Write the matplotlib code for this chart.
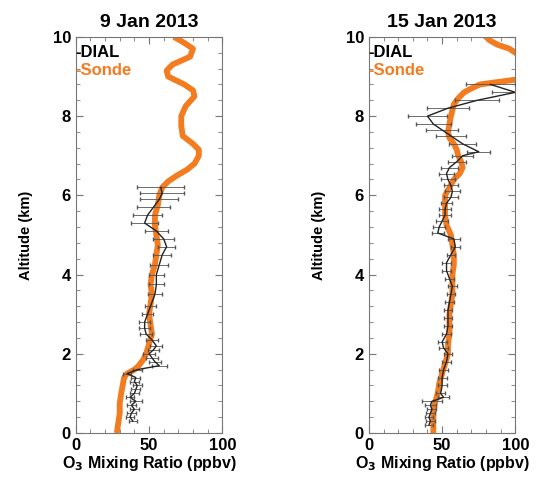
import numpy as np
import matplotlib
matplotlib.use('Agg')
import matplotlib.pyplot as plt
from matplotlib.ticker import MultipleLocator

plt.rcParams['font.family'] = ['Liberation Sans', 'DejaVu Sans']
plt.rcParams['font.weight'] = 'bold'
plt.rcParams['mathtext.default'] = 'bf'

ORANGE = '#f47c20'

# 9 Jan 2013 -- ozonesonde profile (ppbv vs km)
sonde1_alt = [0.0, 0.25, 0.5, 0.75, 1.0, 1.2, 1.4, 1.5, 1.6, 1.7, 1.85, 2.0, 2.25, 2.5,
              2.75, 3.0, 3.25, 3.5, 3.75, 4.0, 4.25, 4.5, 4.75, 5.0, 5.25, 5.5, 5.75,
              6.0, 6.2, 6.35, 6.5, 6.65, 6.8, 7.0, 7.15, 7.3, 7.5, 7.75, 8.0, 8.25,
              8.5, 8.65, 8.8, 9.0, 9.15, 9.3, 9.5, 9.7, 9.85, 10.0]
sonde1_o3 = [28, 29, 30, 30, 31, 32, 33, 35, 40, 43, 46, 48, 50, 52, 51, 50, 51, 52,
             51, 52, 54, 55, 56, 55, 54, 54, 56, 57, 59, 63, 69, 76, 81, 84, 84, 80,
             73, 72, 72, 75, 81, 80, 74, 63, 62, 66, 78, 80, 74, 67]

# 9 Jan 2013 -- DIAL retrieval with uncertainty
dial1_alt = [0.3, 0.4, 0.5, 0.6, 0.7, 0.8, 0.9, 1.0, 1.1, 1.2, 1.3, 1.4, 1.5, 1.6,
             1.7, 1.8, 1.9, 2.0, 2.1, 2.2, 2.35, 2.5, 2.65, 2.8, 3.0, 3.2, 3.5, 3.75,
             4.0, 4.25, 4.5, 4.7, 4.9, 5.1, 5.3, 5.5, 5.7, 5.9, 6.05, 6.2]
dial1_o3 = [39, 37, 38, 40, 38, 41, 37, 40, 41, 42, 40, 41, 35, 42, 57, 54, 52, 50,
            53, 55, 52, 48, 47, 47, 49, 51, 54, 55, 55, 57, 59, 62, 60, 55, 47, 49,
            53, 57, 59, 58]
dial1_err = [3, 3, 3, 3, 3, 4, 3, 3, 3, 3, 3, 3, 3, 3, 5, 4, 4, 4, 4, 4, 4, 4, 4, 4,
             4, 4, 5, 5, 5, 6, 6, 6, 7, 8, 9, 10, 11, 13, 15, 16]

# 15 Jan 2013 -- ozonesonde profile
sonde2_alt = [0.0, 0.25, 0.5, 0.75, 1.0, 1.25, 1.5, 1.75, 2.0, 2.25, 2.5, 2.75, 3.0,
              3.25, 3.5, 3.75, 4.0, 4.25, 4.5, 4.75, 5.0, 5.25, 5.5, 5.75, 6.0, 6.2,
              6.4, 6.55, 6.7, 6.85, 7.0, 7.15, 7.3, 7.45, 7.6, 7.8, 8.0, 8.15, 8.3,
              8.45, 8.6, 8.7, 8.8, 8.86, 8.92]
sonde2_o3 = [44, 44, 44, 45, 47, 48, 50, 52, 54, 54, 55, 55, 55, 56, 57, 57, 57, 58,
             58, 57, 56, 53, 52, 52, 52, 55, 58, 62, 64, 63, 61, 60, 58, 55, 54, 55,
             56, 57, 58, 61, 65, 70, 76, 88, 100]
sonde2_top_alt = [9.6, 9.7, 9.8, 9.9, 10.0]
sonde2_top_o3 = [100, 96, 88, 83, 80]

# 15 Jan 2013 -- DIAL retrieval with uncertainty
dial2_alt = [0.2, 0.3, 0.4, 0.5, 0.6, 0.7, 0.8, 0.9, 1.0, 1.2, 1.4, 1.6, 1.8, 2.0,
             2.15, 2.3, 2.5, 2.7, 2.9, 3.1, 3.3, 3.5, 3.7, 3.9, 4.1, 4.3, 4.5, 4.7,
             4.9, 5.05, 5.2, 5.35, 5.5, 5.65, 5.8, 5.95, 6.1, 6.25, 6.4, 6.55, 6.7,
             6.85, 7.0, 7.1, 7.3, 7.5, 7.65, 7.8, 8.0, 8.2, 8.4, 8.6, 8.8]
dial2_o3 = [41, 42, 41, 42, 43, 42, 43, 51, 49, 50, 50, 51, 53, 54, 51, 50, 53, 54,
            54, 54, 55, 56, 57, 55, 53, 53, 56, 59, 58, 47, 48, 50, 52, 52, 53, 56,
            57, 56, 54, 53, 55, 60, 64, 75, 64, 56, 50, 44, 40, 54, 74, 100, 83]
dial2_err = [3, 3, 3, 3, 3, 4, 7, 4, 3, 3, 3, 3, 3, 3, 3, 3, 3, 3, 3, 3, 3, 3, 3, 3,
             3, 3, 3, 3, 4, 4, 4, 4, 4, 4, 4, 5, 5, 5, 5, 5, 6, 6, 7, 8, 9, 10, 11, 12,
             13, 14, 15, 16, 17]

panels = [
    ('9 Jan 2013', sonde1_alt, sonde1_o3, None, None, dial1_alt, dial1_o3, dial1_err),
    ('15 Jan 2013', sonde2_alt, sonde2_o3, sonde2_top_alt, sonde2_top_o3,
     dial2_alt, dial2_o3, dial2_err),
]

fig = plt.figure(figsize=(5.53, 4.79), dpi=100)
lefts = [0.137, 0.667]

for left, (title, s_alt, s_o3, t_alt, t_o3, d_alt, d_o3, d_err) in zip(lefts, panels):
    ax = fig.add_axes([left, 0.096, 0.265, 0.827])
    ax.plot(s_o3, s_alt, color=ORANGE, lw=4.2, solid_capstyle='butt', zorder=2)
    if t_alt is not None:
        ax.plot(t_o3, t_alt, color=ORANGE, lw=4.2, zorder=2)
    ax.errorbar(d_o3, d_alt, xerr=d_err, color='#222222', lw=1.0,
                elinewidth=0.6, ecolor='#555555', capsize=1.5, zorder=3)
    ax.set_xlim(0, 100)
    ax.set_ylim(0, 10)
    ax.xaxis.set_major_locator(MultipleLocator(50))
    ax.xaxis.set_minor_locator(MultipleLocator(10))
    ax.yaxis.set_major_locator(MultipleLocator(2))
    ax.yaxis.set_minor_locator(MultipleLocator(0.4))
    ax.tick_params(which='both', direction='in', top=True, right=True,
                   color='#777777', labelsize=12)
    ax.tick_params(which='major', length=5)
    ax.tick_params(which='minor', length=3)
    for sp in ax.spines.values():
        sp.set_color('#777777')
    ax.set_title(title, fontsize=14, fontweight='bold', pad=7)
    ax.set_ylabel('Altitude (km)', fontsize=10.5, fontweight='bold', labelpad=14)
    ax.set_xlabel('O$_3$ Mixing Ratio (ppbv)', fontsize=11.5, fontweight='bold',
                  labelpad=1)
    ax.text(0.0, 0.98, '-DIAL', transform=ax.transAxes, fontsize=12,
            fontweight='bold', color='black', va='top', ha='left')
    ax.text(0.0, 0.935, '-Sonde', transform=ax.transAxes, fontsize=12,
            fontweight='bold', color=ORANGE, va='top', ha='left')

fig.savefig('out.png', dpi=100)
